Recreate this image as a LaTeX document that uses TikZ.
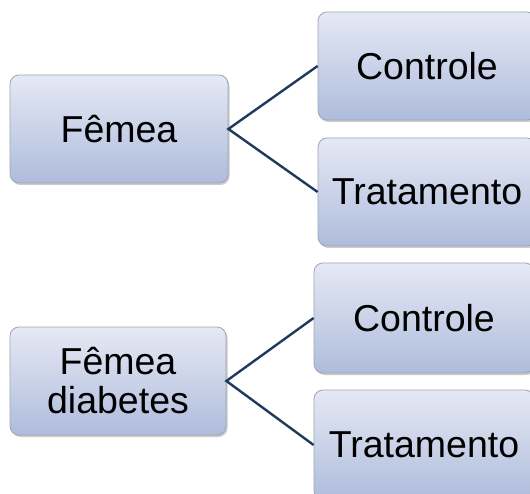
\documentclass[tikz,border=0pt]{standalone}
\usepackage{fontspec}
\setmainfont{Liberation Sans}
\usetikzlibrary{shadows}
\definecolor{boxtop}{HTML}{E6E9F4}
\definecolor{boxbot}{HTML}{AEBCDC}
\definecolor{boxline}{HTML}{9EA5B5}
\definecolor{link}{HTML}{1F3A5C}
\begin{document}
\begin{tikzpicture}[x=1pt,y=-1pt,
  card/.style={draw=boxline, line width=0.8pt, rounded corners=9pt,
    top color=boxtop, bottom color=boxbot,
    drop shadow={shadow xshift=1.5pt, shadow yshift=-2pt, opacity=0.35, fill=black!60},
    font=\fontsize{37.5}{39}\selectfont, align=center, inner sep=0pt},
  link/.style={draw=link, line width=2.4pt}]
\useasboundingbox (0,0) rectangle (530,494);
% left column
\node[card, minimum width=218pt, minimum height=108pt] (f1) at (119,129) {Fêmea};
\node[card, minimum width=216pt, minimum height=108pt] (f2) at (118,381) {Fêmea\\diabetes};
% right column
\node[card, minimum width=218pt, minimum height=108pt] (c1) at (427,66) {Controle};
\node[card, minimum width=218pt, minimum height=108pt] (t1) at (427,192) {Tratamento};
\node[card, minimum width=220pt, minimum height=110pt] (c2) at (424,318) {Controle};
\node[card, minimum width=220pt, minimum height=110pt] (t2) at (424,445) {Tratamento};
% connectors
\draw[link] (c1.west) -- (f1.east) -- (t1.west);
\draw[link] (c2.west) -- (f2.east) -- (t2.west);
\end{tikzpicture}
\end{document}
